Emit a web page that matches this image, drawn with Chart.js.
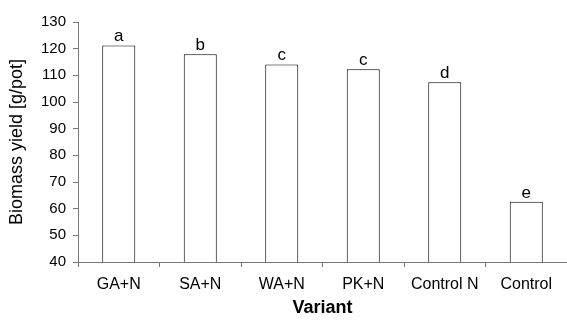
<!DOCTYPE html>
<html>
<head>
<meta charset="utf-8">
<script src="https://cdn.jsdelivr.net/npm/chart.js@4/dist/chart.umd.min.js"></script>
<style>
  html, body { margin: 0; padding: 0; background: #fff; }
  #wrap { position: relative; width: 567px; height: 322px; }
</style>
</head>
<body>
<div id="wrap"><canvas id="biomassChart"></canvas></div>
<script>
// data
const variants = ['GA+N', 'SA+N', 'WA+N', 'PK+N', 'Control N', 'Control'];
const biomassYield = [121.2, 117.9, 114.1, 112.3, 107.4, 62.6];
const groupLetters = ['a', 'b', 'c', 'c', 'd', 'e'];
const yTicks = [40, 50, 60, 70, 80, 90, 100, 110, 120, 130];

const FONT = "'Liberation Sans', Arial, sans-serif";
const AXIS_GREY = '#777';

// letters above each bar
const letterPlugin = {
  id: 'letterPlugin',
  afterDatasetsDraw(chart) {
    const ctx = chart.ctx;
    const meta = chart.getDatasetMeta(0);
    ctx.save();
    ctx.font = '17px ' + FONT;
    ctx.fillStyle = '#000';
    ctx.textAlign = 'center';
    ctx.textBaseline = 'alphabetic';
    meta.data.forEach((bar, i) => {
      ctx.fillText(groupLetters[i], bar.x, bar.y - 4);
    });
    ctx.restore();
  }
};

new Chart(document.getElementById('biomassChart'), {
  type: 'bar',
  data: {
    labels: variants,
    datasets: [{
      data: biomassYield,
      backgroundColor: '#fff',
      borderColor: '#000',
      borderWidth: 1,
      borderSkipped: 'bottom',
      categoryPercentage: 1,
      barPercentage: 0.405
    }]
  },
  options: {
    responsive: true,
    maintainAspectRatio: false,
    animation: false,
    layout: { padding: { top: 22, right: 0, left: 0, bottom: 0 } },
    plugins: {
      legend: { display: false },
      tooltip: { enabled: false }
    },
    scales: {
      x: {
        offset: true,
        grid: {
          offset: true,
          drawOnChartArea: false,
          drawTicks: true,
          tickLength: 5,
          color: AXIS_GREY
        },
        border: { display: true, color: AXIS_GREY, width: 1 },
        ticks: {
          color: '#000',
          font: { family: FONT, size: 16 },
          padding: 8,
          maxRotation: 0,
          autoSkip: false
        },
        title: {
          display: true,
          text: 'Variant',
          color: '#000',
          font: { family: FONT, size: 18, weight: 'bold' },
          padding: { top: 0, bottom: 3 }
        },
        afterFit(scale) { scale.height = 60; }
      },
      y: {
        min: 40,
        max: 130,
        afterBuildTicks(scale) {
          scale.ticks = yTicks.map(v => ({ value: v }));
        },
        grid: {
          drawOnChartArea: false,
          drawTicks: true,
          tickLength: 5,
          color: AXIS_GREY
        },
        border: { display: true, color: AXIS_GREY, width: 1 },
        ticks: {
          color: '#000',
          font: { family: FONT, size: 15 },
          padding: 7
        },
        title: {
          display: true,
          text: 'Biomass yield [g/pot]',
          color: '#000',
          font: { family: FONT, size: 18 },
          padding: { top: 6, bottom: 0 }
        },
        afterFit(scale) { scale.width = 78; }
      }
    }
  },
  plugins: [letterPlugin]
});
</script>
</body>
</html>
